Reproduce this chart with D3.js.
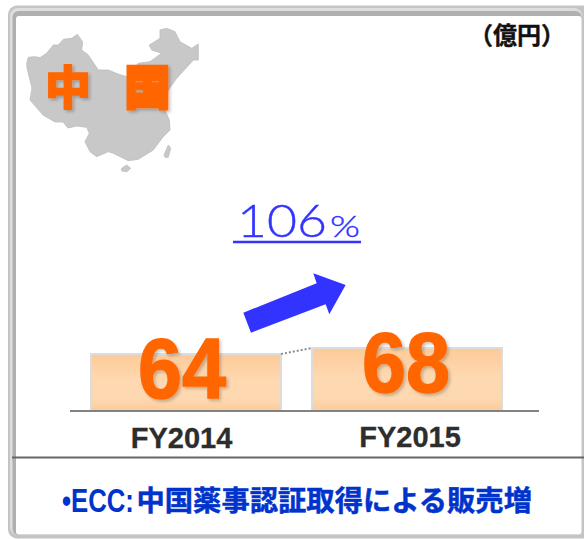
<!DOCTYPE html>
<html><head><meta charset="utf-8">
<script src="https://cdn.jsdelivr.net/npm/d3@7/dist/d3.min.js"></script>
<style>html,body{margin:0;padding:0;background:#fff}svg{display:block}</style>
</head><body><svg id="c" width="584" height="539"></svg>
<script>
const categories = ["FY2014","FY2015"];
const values = [64,68];
const unitLabel = "（億円）";
const regionChars = ["中","国"];
const growthValue = "106";
const growthUnit = "%";
const noteLatin = "•ECC:";
const noteJapanese = "中国薬事認証取得による販売増";
const labelShift = [-4.5, 3];
const valueShift = [-4, -1];

const svg = d3.select("#c");
const defs = svg.append("defs");
const g = defs.append("linearGradient").attr("id","bar").attr("x1",0).attr("x2",0).attr("y1",0).attr("y2",1);
[[0,"#fdca98"],[0.45,"#fed8b0"],[0.8,"#fed8b0"],[1,"#fccb9a"]].forEach(s=>g.append("stop").attr("offset",s[0]).attr("stop-color",s[1]));
const sh = defs.append("filter").attr("id","shadow").attr("x","-20%").attr("y","-20%").attr("width","150%").attr("height","150%");
sh.append("feDropShadow").attr("dx",2).attr("dy",2).attr("stdDeviation",1.5).attr("flood-color","#000").attr("flood-opacity",0.22);
const blur = defs.append("filter").attr("id","soft");
blur.append("feGaussianBlur").attr("stdDeviation",0.45);

// frame
const frame = [
  {x:8,  y:5.5,w:610,h:533,r:9,c:"#c4c4c4"},
  {x:10, y:8,  w:572,h:527,r:8,c:"#dedede"},
  {x:12.5,y:11,w:569,h:524,r:6,c:"#b0b0b0"},
  {x:16, y:16, w:565.5,h:518.5,r:3,c:"#ffffff"}
];
svg.append("g").selectAll("rect").data(frame).join("rect")
  .attr("x",d=>d.x).attr("y",d=>d.y).attr("width",d=>d.w).attr("height",d=>d.h).attr("rx",d=>d.r).attr("fill",d=>d.c);

// map of China
const land = [[26.7,63.3],[28.3,57.3],[35,56.7],[40,57.7],[46.7,53.3],[53.3,45],[58.3,45],[63.3,39.3],[71.7,38.3],[77.3,34.3],[82.7,41.7],[81.7,50],[88.3,55],[98.3,70],[108.3,70],[118,74],[126.7,76.7],[138.3,63.3],[150,61.7],[161.7,53.3],[151.7,50],[149.3,45],[160,38.3],[160,30],[166.7,28.3],[175,31.7],[180,41.7],[191.7,48.3],[198.3,44],[198.3,60],[193.3,60],[187.3,66.7],[176.7,78.3],[168.3,90],[165,105],[165,110],[169.3,120],[170,130],[163.3,136.7],[153.3,150],[138.3,159.3],[128.3,160.7],[113.3,153.3],[108.3,151.7],[96.7,156.7],[90,151.7],[85,141.7],[89.3,133.3],[86.7,127.3],[76.7,126],[68,128],[63,122],[55,122],[43,115],[30,100],[32,88],[27,68]];
const hainan = [[121.7,168.3],[126.7,165],[130.7,168.3],[126.7,171.7],[121.7,171]];
const taiwan = [[164,155],[168.3,145],[170.7,148.3],[168.3,157.3],[165,157.3]];
const mapLine = d3.line().curve(d3.curveLinearClosed);
svg.append("g").attr("filter","url(#soft)").selectAll("path").data([land,hainan,taiwan]).join("path")
  .attr("d",mapLine).attr("fill","#c8c8c8").attr("stroke","#bcbcbc").attr("stroke-width",0.8);

svg.append("g").selectAll("text").data(regionChars).join("text").text(d=>d)
  .attr("x",(d,i)=>[68,147.5][i]).attr("y",103.5)
  .attr("text-anchor","middle").attr("font-family","Noto Sans CJK JP").attr("font-weight",900)
  .attr("font-size",46).attr("fill","#ff6600").attr("stroke","#ff6600").attr("stroke-width",(d,i)=>[1.5,2.5][i])
  .attr("filter","url(#shadow)");

svg.append("text").text(unitLabel).attr("x",517).attr("y",44)
  .attr("text-anchor","middle").attr("font-family","Noto Sans CJK JP").attr("font-weight",700)
  .attr("font-size",24).attr("fill","#111").attr("stroke","#111").attr("stroke-width",0.4);

// scales
const x = d3.scaleBand().domain(categories).range([91,502]).paddingInner(0.14).paddingOuter(0);
const y = d3.scaleLinear().domain([26,68]).range([411,348]);

// bars
svg.append("g").selectAll("rect").data(values).join("rect")
  .attr("x",(d,i)=>x(categories[i])).attr("y",d=>y(d))
  .attr("width",x.bandwidth()).attr("height",d=>y.range()[0]-y(d))
  .attr("fill","url(#bar)").attr("stroke","#dcdcdc").attr("stroke-width",2);

// connector
svg.append("line")
  .attr("x1",x(categories[0])+x.bandwidth()).attr("y1",y(values[0]))
  .attr("x2",x(categories[1])).attr("y2",y(values[1]))
  .attr("stroke","#8c8c8c").attr("stroke-width",2).attr("stroke-dasharray","2 2");

// baseline & category labels
const axis = svg.append("g").attr("transform","translate(0,411)")
  .call(d3.axisBottom(x).tickSize(0).tickPadding(16));
axis.select(".domain").remove();
axis.append("line").attr("x1",70).attr("x2",539).attr("stroke","#828282").attr("stroke-width",2.2);
axis.selectAll(".tick text").attr("font-family","Liberation Sans").attr("font-weight",700)
  .attr("font-size",29).attr("fill","#2d2d2d").attr("stroke","#2d2d2d").attr("stroke-width",0.3)
  .attr("dx",(d,i)=>labelShift[i]).attr("y",(d,i)=>[16,15][i]);

// value labels
svg.append("g").selectAll("text").data(values).join("text")
  .text(d=>d)
  .attr("x",(d,i)=>x(categories[i])+x.bandwidth()/2+valueShift[i])
  .attr("y",d=>y(d)+43.5)
  .attr("text-anchor","middle").attr("font-family","Liberation Sans").attr("font-weight",700)
  .attr("font-size",86).attr("textLength",88).attr("lengthAdjust","spacingAndGlyphs")
  .attr("fill","#ff6600").attr("stroke","#ff6600").attr("stroke-width",1.5).attr("filter","url(#shadow)");

// growth
svg.append("text").text(growthValue).attr("x",237).attr("y",237).attr("font-family","Lato").attr("font-weight",300)
  .attr("font-size",46).attr("textLength",90).attr("lengthAdjust","spacingAndGlyphs")
  .attr("fill","#3333ff").attr("stroke","#3333ff").attr("stroke-width",0.4);
svg.append("text").text(growthUnit).attr("x",330).attr("y",237).attr("font-family","Lato").attr("font-weight",300)
  .attr("font-size",30).attr("textLength",30).attr("lengthAdjust","spacingAndGlyphs")
  .attr("fill","#3333ff").attr("stroke","#3333ff").attr("stroke-width",0.4);
svg.append("line").attr("x1",233).attr("x2",361).attr("y1",242).attr("y2",242).attr("stroke","#3333ff").attr("stroke-width",2.4);

// arrow
const arrow = [[550,368],[770,280],[760,250],[857,285],[808,373],[797,343],[573,428]];
svg.append("path").attr("transform","translate(60,190) scale(0.3333)")
  .attr("d",mapLine(arrow)).attr("fill","#3333ff");

// divider & note
svg.append("line").attr("x1",12).attr("x2",584).attr("y1",457.5).attr("y2",457.5).attr("stroke","#666").attr("stroke-width",2);
svg.append("text").text(noteLatin).attr("transform","translate(62,512) scale(0.78,1)")
  .attr("font-family","Liberation Sans").attr("font-weight",700).attr("font-size",33)
  .attr("fill","#0033cc");
svg.append("text").text(noteJapanese).attr("x",136.5).attr("y",511)
  .attr("font-family","Noto Sans CJK JP").attr("font-weight",700).attr("font-size",28)
  .attr("textLength",395.5).attr("lengthAdjust","spacingAndGlyphs")
  .attr("fill","#0033cc").attr("stroke","#0033cc").attr("stroke-width",0.5);
</script></body></html>
